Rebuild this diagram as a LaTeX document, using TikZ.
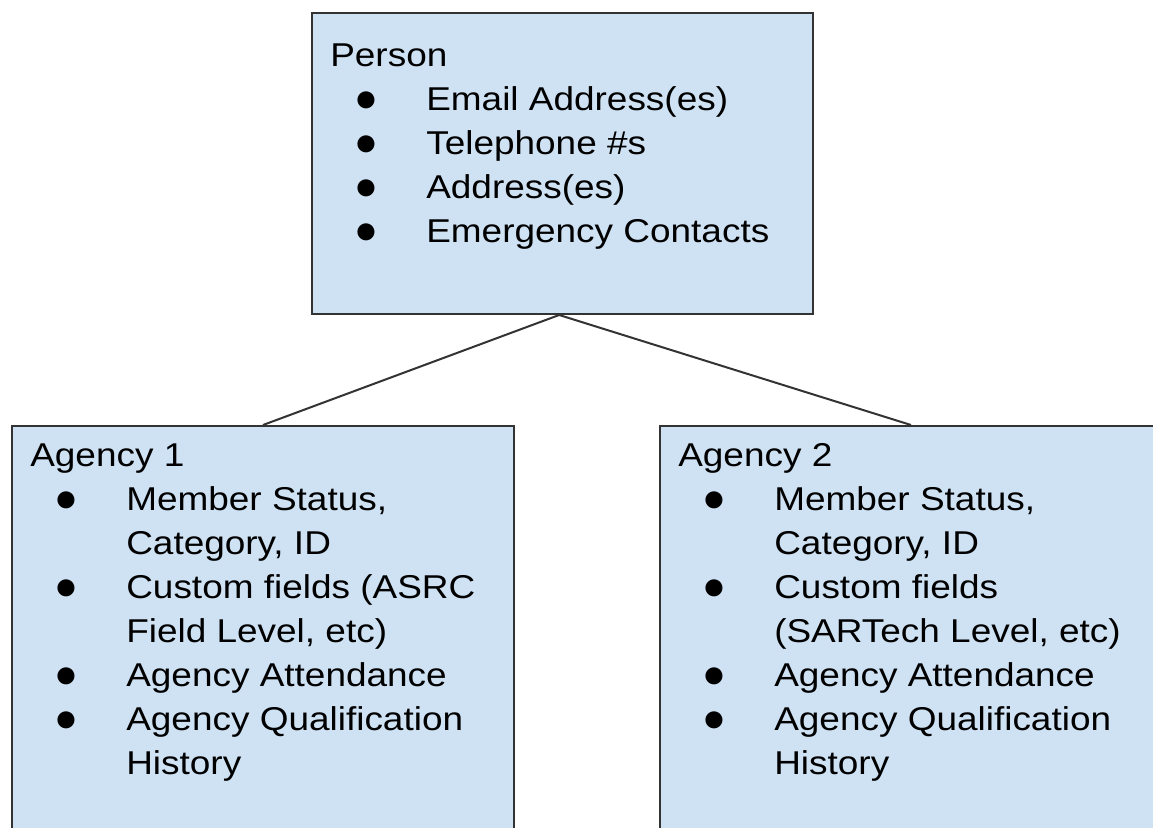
\documentclass[tikz,border=0pt]{standalone}
\usepackage{fontspec}
\setmainfont{Liberation Sans}[FakeStretch=1.12]
\definecolor{boxfill}{HTML}{CFE2F3}
\definecolor{boxline}{HTML}{333333}
\newcommand{\blt}{\makebox[72pt][l]{\hspace*{18.5pt}\raisebox{-1.2pt}{\scalebox{1.07}[1.2]{●}}}}
\newcommand{\cnt}{\hspace*{72pt}}
\tikzset{
  box/.style={draw=boxline, fill=boxfill, line width=1.5pt, anchor=north west, inner sep=0pt},
  txt/.style={anchor=base west, inner sep=0pt, font=\fontsize{24.75pt}{33pt}\selectfont},
  link/.style={draw=boxline, line width=1.5pt}
}
\begin{document}
\begin{tikzpicture}[x=0.75pt,y=-0.75pt]
\useasboundingbox (0,0) rectangle (1153,828);

% boxes
\node[box, minimum width=375.75pt, minimum height=225.75pt] (person) at (311,12) {};
\node[box, minimum width=376.5pt, minimum height=330pt] (agency1) at (11,425) {};
\node[box, minimum width=376.5pt, minimum height=330pt] (agency2) at (659,425) {};

% connectors
\coordinate (split) at ([xshift=-2.5pt]person.south);
\draw[link] (split) -- (agency1.north);
\draw[link] (split) -- (agency2.north);

% texts
\node[txt] (persontxt) at (330,66) {\begin{tabular}[t]{@{}l@{}}
Person\\
\blt Email Address(es)\\
\blt Telephone \#s\\
\blt Address(es)\\
\blt Emergency Contacts
\end{tabular}};

\node[txt] (agency1txt) at (30,466) {\begin{tabular}[t]{@{}l@{}}
Agency 1\\
\blt Member Status,\\
\cnt Category, ID\\
\blt Custom fields (ASRC\\
\cnt Field Level, etc)\\
\blt Agency Attendance\\
\blt Agency Qualification\\
\cnt History
\end{tabular}};

\node[txt] (agency2txt) at (678,466) {\begin{tabular}[t]{@{}l@{}}
Agency 2\\
\blt Member Status,\\
\cnt Category, ID\\
\blt Custom fields\\
\cnt (SARTech Level, etc)\\
\blt Agency Attendance\\
\blt Agency Qualification\\
\cnt History
\end{tabular}};

\end{tikzpicture}
\end{document}
